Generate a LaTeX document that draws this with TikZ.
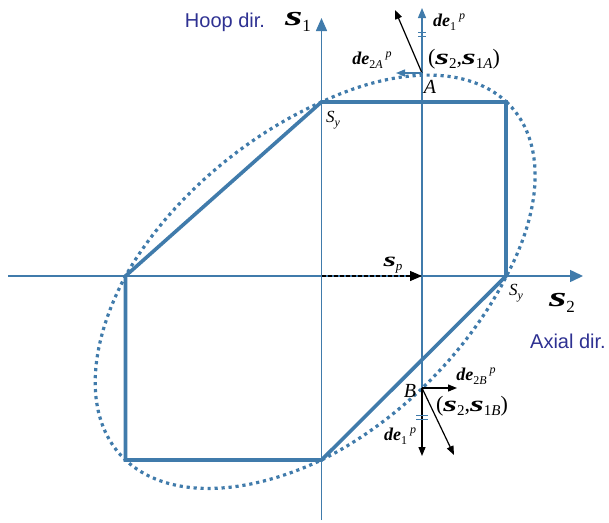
\documentclass[tikz,border=0pt]{standalone}
\usepackage{fontspec}
\setmainfont{Liberation Serif}
\newfontfamily\arialf{Liberation Sans}
\usetikzlibrary{arrows.meta}
\definecolor{lineblue}{RGB}{64,123,171}
\definecolor{navytext}{RGB}{46,49,146}
\newcommand\bsig{\scalebox{1.6}[1]{\textbf{\textit{s}}}}
\newcommand\fsz[1]{\fontsize{#1}{#1}\selectfont}
\begin{document}
\begin{tikzpicture}[x=1pt,y=-1pt,
  axisline/.style={lineblue,line width=1.5pt},
  thinline/.style={lineblue,line width=1.2pt},
  hexline/.style={lineblue,line width=3.6pt,line join=miter},
  ellline/.style={lineblue,line width=3.2pt,dash pattern=on 3.2pt off 3.8pt},
  blackarrow/.style={black,line width=1.2pt,-{Triangle[length=9pt,width=7pt]}},
  tickmark/.style={lineblue,line width=1pt},
  lab/.style={inner sep=0pt,anchor=center},
  dirlab/.style={inner sep=0pt,anchor=center,text=navytext,font=\arialf\fsz{20}},
  declare function={eu(\t)=cos(\t)+sin(\t)/sqrt(3);
                    ev(\t)=cos(\t)-sin(\t)/sqrt(3);
                    ex(\t)=321.5+eu(\t)*ifthenelse(eu(\t)>0,185,196);
                    ey(\t)=276-ev(\t)*ifthenelse(ev(\t)>0,174,184);}]
\useasboundingbox (0,0) rectangle (609,522);
% coordinates
\coordinate (O) at (321.5,276);
\coordinate (ybot) at (321.5,520);
\coordinate (ytop) at (321.5,18);
\coordinate (xleft) at (8,276);
\coordinate (xright) at (583,276);
\coordinate (P1) at (321.5,102);
\coordinate (P2) at (506,102);
\coordinate (P3) at (506,276);
\coordinate (P4) at (321.5,460);
\coordinate (P5) at (125.5,460);
\coordinate (P6) at (125.5,276);
\coordinate (A) at (422,73);
\coordinate (B) at (422,388);
\coordinate (vtop) at (422,8);
\coordinate (Sp) at (422,276);
\coordinate (Aup) at (395,10);
\coordinate (Aleft) at (396,73);
\coordinate (Bright) at (457,388);
\coordinate (Bdown) at (422,456);
\coordinate (Bdiag) at (454,455);
% axes
\draw[axisline,-{Triangle[length=13pt,width=11pt]}] (ybot) -- (ytop);
\draw[axisline,-{Triangle[length=13pt,width=12pt]}] (xleft) -- (xright);
\draw[thinline,-{Triangle[length=10pt,width=8pt]}] (B) -- (vtop);
% hexagon
\draw[hexline] (P1) -- (P2) -- (P3) -- (P4) -- (P5) -- (P6) -- cycle;
% ellipse
\draw[ellline] plot[domain=0:360,samples=240,smooth] ({ex(\x)},{ey(\x)});
% s_p
\draw[black,line width=1.3pt,dash pattern=on 4pt off 2pt,-{Triangle[length=12pt,width=10pt]}] (O) -- (Sp);
% arrows at A
\draw[blackarrow] (A) -- (Aup);
\draw[lineblue,line width=1.3pt,-{Triangle[length=9pt,width=7pt]}] (A) -- (Aleft);
% arrows at B
\draw[blackarrow] (B) -- (Bright);
\draw[blackarrow] (B) -- (Bdown);
\draw[blackarrow] (B) -- (Bdiag);
% tick marks
\draw[tickmark] (418,32.5) -- (426,32.5) (418,36) -- (426,36);
\draw[tickmark] (416,415.5) -- (428,415.5) (416,419) -- (428,419);
% labels
\node[dirlab] (hoop) at (225,22) {Hoop dir.};
\node[dirlab] (axial) at (568,341) {Axial dir.};
\node[lab] (s1lab) at (298,22) {\fsz{28}\bsig\raisebox{-6pt}{\fsz{17}1}};
\node[lab] (s2lab) at (562,303) {\fsz{28}\bsig\raisebox{-6pt}{\fsz{17}2}};
\node[lab] (sylab1) at (333,120) {\fsz{17}\textit{S}\raisebox{-4pt}{\fsz{12}\textit{y}}};
\node[lab] (sylab2) at (516,293) {\fsz{17}\textit{S}\raisebox{-4pt}{\fsz{12}\textit{y}}};
\node[lab] (splab) at (393,265) {\fsz{20}\bsig\raisebox{-4pt}{\fsz{13}\textit{p}}};
\node[lab] (Alab) at (430,87) {\fsz{20}\textit{A}};
\node[lab] (Blab) at (410,391) {\fsz{20}\textit{B}};
\node[lab] (de1A) at (449,22) {\fsz{18}\textbf{\textit{de}}\raisebox{-4pt}{\fsz{12}1}\,\raisebox{7pt}{\fsz{12}\textit{p}}};
\node[lab] (de2A) at (372,60) {\fsz{18}\textbf{\textit{de}}\raisebox{-4pt}{\fsz{12}2\textit{A}}\,\raisebox{7pt}{\fsz{12}\textit{p}}};
\node[lab] (de2B) at (476,376) {\fsz{18}\textbf{\textit{de}}\raisebox{-4pt}{\fsz{12}2\textit{B}}\,\raisebox{7pt}{\fsz{12}\textit{p}}};
\node[lab] (de1B) at (400,436) {\fsz{18}\textbf{\textit{de}}\raisebox{-4pt}{\fsz{12}1}\,\raisebox{7pt}{\fsz{12}\textit{p}}};
\node[lab] (sA) at (464,59) {\fsz{22}(\bsig\raisebox{-4pt}{\fsz{15}2},\bsig\raisebox{-4pt}{\fsz{15}1\textit{A}})};
\node[lab] (sB) at (472,406) {\fsz{22}(\bsig\raisebox{-4pt}{\fsz{15}2},\bsig\raisebox{-4pt}{\fsz{15}1\textit{B}})};
\end{tikzpicture}
\end{document}
